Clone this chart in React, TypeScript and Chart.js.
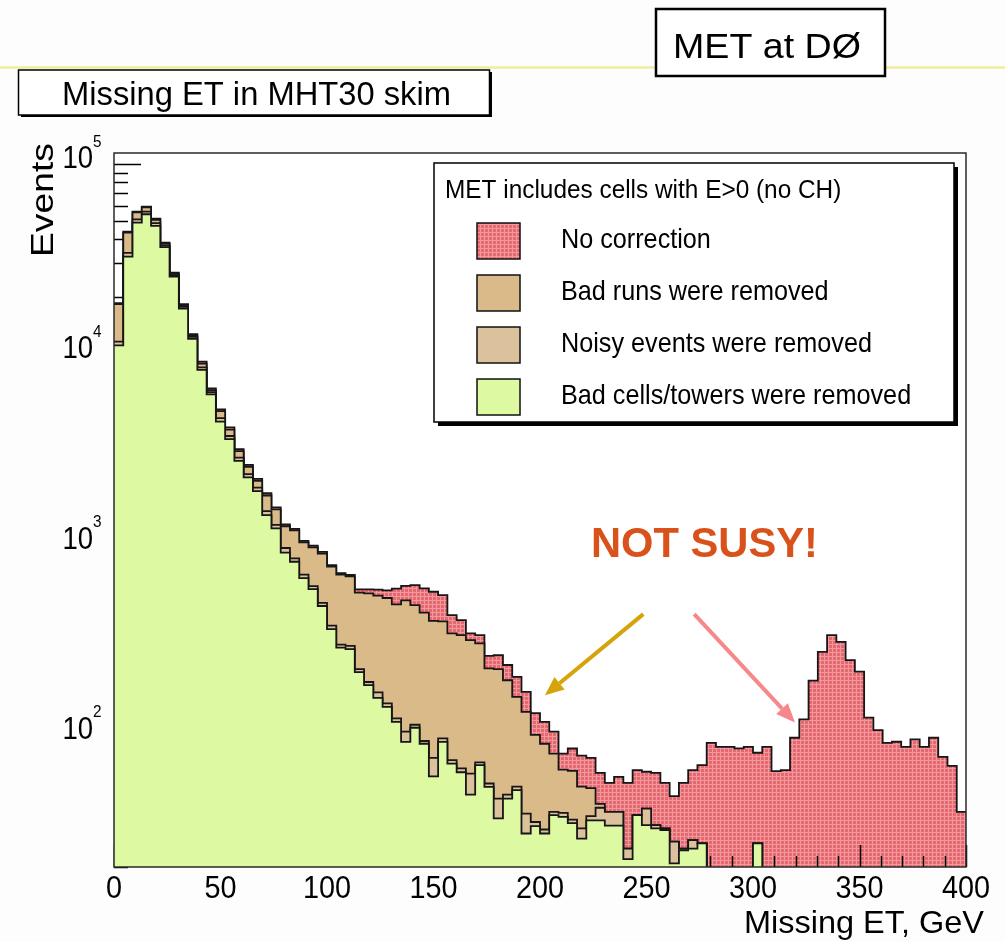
import React, { useEffect, useRef } from "react";
import { Chart, registerables } from "chart.js";

Chart.register(...registerables);

// Axis ranges: missing ET in GeV, events on a log scale
const xRange = [0, 400];
const yRange = [20, 114000];

// Events per bin (92 equal bins spanning 0-400 GeV), one array per cleaning stage
const noCorrection = [
  18500, 44000, 56100, 59600, 51400, 38500, 26800, 18300, 12700, 9100,
  6590, 5110, 4110, 3160, 2610, 2200, 1850, 1560, 1270, 1200,
  1040, 980, 910, 774, 702, 687, 578, 578, 575, 570,
  582, 602, 608, 585, 561, 539, 423, 398, 339, 332,
  258, 260, 231, 200, 167, 129, 116, 103, 79, 84,
  77, 75, 62.5, 55.4, 59.6, 55.4, 64.7, 63.4, 62.6, 55.4,
  47.2, 55.4, 64.7, 68.7, 90, 85.7, 85.7, 84.1, 85.7, 79.8,
  85.7, 63.9, 64.7, 95.7, 119.5, 191, 271, 332, 306, 245,
  213, 122, 105, 90, 91.2, 85.7, 93.8, 85.7, 95.7, 76,
  68, 39,
];

const badRunsRemoved = [
  18300, 43500, 55500, 59000, 50800, 38000, 26400, 18000, 12500, 8900,
  6450, 5000, 4000, 3080, 2550, 2150, 1800, 1520, 1240, 1180,
  1020, 960, 890, 760, 690, 675, 555, 550, 535, 520,
  482, 505, 477, 436, 394, 392, 339, 332, 312, 300,
  222, 220, 192, 157, 131, 99, 89, 79, 65, 64,
  53, 52, 43, 39, 39, 25, 37.5, 40.6, 33.2, 31.9,
  27.2, 25, 27.7, 26.6, 0, 0, 0, 0, 0, 26.6,
  0, 0, 0, 0, 0, 0, 0, 0, 0, 0,
  0, 0, 0, 0, 0, 0, 0, 0, 0, 0,
  0, 0,
];

const noisyEventsRemoved = [
  11600, 34000, 51000, 56000, 48800, 37200, 26000, 17700, 12300, 8500,
  6300, 4600, 3700, 2850, 2330, 1980, 1490, 1260, 953, 840,
  690, 600, 490, 372, 296, 291, 220, 188, 166, 145,
  121, 103, 112, 92, 75, 95, 73, 66, 62, 71,
  55, 45.8, 48, 53, 38.2, 34.5, 31.5, 39, 38.5, 35.5,
  31.9, 37, 41, 39, 39, 25, 37.5, 40.6, 33.2, 31.9,
  27.2, 25, 27.7, 26.6, 0, 0, 0, 0, 0, 26.6,
  0, 0, 0, 0, 0, 0, 0, 0, 0, 0,
  0, 0, 0, 0, 0, 0, 0, 0, 0, 0,
  0, 0,
];

const badCellsRemoved = [
  11100, 32500, 49100, 54300, 47200, 36500, 25500, 17300, 12000, 8240,
  6130, 4400, 3560, 2740, 2240, 1900, 1420, 1210, 900, 807,
  662, 579, 472, 357, 285, 280, 212, 181, 155, 139,
  116, 91, 108, 89, 60, 91, 70, 63, 48, 68.7,
  52.8, 36, 45.8, 50.7, 30, 32.8, 30, 37.5, 36.7, 34,
  28.2, 35.2, 35.2, 33, 33, 22, 37.5, 33.2, 31.9, 31.3,
  20.9, 24.5, 25, 26.6, 0, 0, 0, 0, 0, 26.6,
  0, 0, 0, 0, 0, 0, 0, 0, 0, 0,
  0, 0, 0, 0, 0, 0, 0, 0, 0, 0,
  0, 0,
];

const seriesLabels = [
  "No correction",
  "Bad runs were removed",
  "Noisy events were removed",
  "Bad cells/towers were removed",
];
const legendHeader = "MET includes cells with E>0 (no CH)";
const xTickLabels = [0, 50, 100, 150, 200, 250, 300, 350, 400];
const xMinorStep = 10;
const yDecades = [2, 3, 4, 5];
const xTitle = "Missing ET, GeV";
const yTitle = "Events";
const plotTitle = "Missing ET in MHT30 skim";
const slideTag = "MET at DØ";
const noteText = "NOT SUSY!";

const FONT = '"Liberation Sans", Arial, Helvetica, sans-serif';
const TAN_RUNS = "#dbba89";
const TAN_NOISY = "#dcc19d";
const GREEN = "#ddf9a2";
const OUTLINE = "#161616";

type Pt = { x: number; y: number };

// Turn per-bin counts into step points at the bin low edges (+ closing edge)
function histPoints(values: number[]): Pt[] {
  const width = (xRange[1] - xRange[0]) / values.length;
  const floor = yRange[0] / 10; // empty bins fall below the log axis
  const pts = values.map((v, i) => ({ x: xRange[0] + i * width, y: v > 0 ? v : floor }));
  const last = values[values.length - 1];
  pts.push({ x: xRange[1], y: last > 0 ? last : floor });
  return pts;
}

// Fine cross-hatched red fill, like ROOT's pattern fill style
function makeHatch(ctx: CanvasRenderingContext2D | null): CanvasPattern | string {
  const fallback = "#e8767c";
  if (!ctx) return fallback;
  const tile = document.createElement("canvas");
  tile.width = 4;
  tile.height = 4;
  const t = tile.getContext("2d");
  if (!t) return fallback;
  t.fillStyle = "rgb(228,104,112)";
  t.fillRect(0, 0, 4, 4);
  t.fillStyle = "rgb(243,152,156)";
  t.fillRect(0, 0, 4, 1);
  t.fillRect(0, 0, 1, 4);
  return ctx.createPattern(tile, "repeat") || fallback;
}

function squeezeText(
  ctx: CanvasRenderingContext2D,
  text: string,
  x: number,
  y: number,
  size: number,
  sx: number,
  align: CanvasTextAlign,
  weight = "normal"
) {
  ctx.save();
  ctx.font = `${weight} ${size}px ${FONT}`;
  ctx.textAlign = align;
  ctx.textBaseline = "alphabetic";
  ctx.translate(x, y);
  ctx.scale(sx, 1);
  ctx.fillText(text, 0, 0);
  ctx.restore();
}

function fitText(
  ctx: CanvasRenderingContext2D,
  text: string,
  x: number,
  y: number,
  size: number,
  width: number,
  align: CanvasTextAlign,
  weight = "normal"
) {
  ctx.save();
  ctx.font = `${weight} ${size}px ${FONT}`;
  const natural = ctx.measureText(text).width || 1;
  ctx.restore();
  squeezeText(ctx, text, x, y, size, width / natural, align, weight);
}

function arrow(ctx: CanvasRenderingContext2D, x0: number, y0: number, x1: number, y1: number, color: string) {
  const ang = Math.atan2(y1 - y0, x1 - x0);
  const head = 19;
  const half = 8;
  const bx = x1 - head * Math.cos(ang);
  const by = y1 - head * Math.sin(ang);
  ctx.save();
  ctx.strokeStyle = color;
  ctx.fillStyle = color;
  ctx.lineWidth = 4;
  ctx.lineCap = "butt";
  ctx.beginPath();
  ctx.moveTo(x0, y0);
  ctx.lineTo(bx, by);
  ctx.stroke();
  ctx.beginPath();
  ctx.moveTo(x1, y1);
  ctx.lineTo(bx + half * Math.sin(ang), by - half * Math.cos(ang));
  ctx.lineTo(bx - half * Math.sin(ang), by + half * Math.cos(ang));
  ctx.closePath();
  ctx.fill();
  ctx.restore();
}

const histogramDecor = {
  id: "histogramDecor",
  beforeDraw(chart: any) {
    const { ctx, width } = chart;
    const a = chart.chartArea;
    ctx.save();
    ctx.fillStyle = "#fdfdfd";
    ctx.fillRect(0, 0, chart.width, chart.height);

    // pale rule across the top of the page
    ctx.strokeStyle = "#f1eb9e";
    ctx.lineWidth = 2.5;
    ctx.beginPath();
    ctx.moveTo(0, 67.5);
    ctx.lineTo(width, 67.5);
    ctx.stroke();

    // tag box, upper right
    ctx.fillStyle = "#ffffff";
    ctx.fillRect(656, 9, 229, 67);
    ctx.strokeStyle = "#000";
    ctx.lineWidth = 2.5;
    ctx.strokeRect(656, 9, 229, 67);
    ctx.fillStyle = "#000";
    fitText(ctx, slideTag, 767, 58, 35, 188, "center");

    // histogram title box with drop shadow
    ctx.fillStyle = "#000";
    ctx.fillRect(21, 72, 471, 45);
    ctx.fillStyle = "#ffffff";
    ctx.fillRect(18.5, 70, 471, 45);
    ctx.lineWidth = 1.5;
    ctx.strokeRect(18.5, 70, 471, 45);
    ctx.fillStyle = "#000";
    fitText(ctx, plotTitle, 62, 105, 34, 389, "left");

    // plot area
    ctx.fillStyle = "#ffffff";
    ctx.fillRect(a.left, a.top, a.right - a.left, a.bottom - a.top);
    ctx.restore();
  },
  beforeDatasetsDraw(chart: any) {
    // log-axis ticks, inside the frame
    const { ctx } = chart;
    const a = chart.chartArea;
    const ys = chart.scales.y;
    ctx.save();
    ctx.strokeStyle = "#000";
    ctx.lineWidth = 1.5;
    for (let e = 1; e <= 5; e++) {
      for (let m = 1; m <= 9; m++) {
        const v = m * Math.pow(10, e);
        if (v < yRange[0] || v > yRange[1]) continue;
        const y = Math.round(ys.getPixelForValue(v)) + 0.5;
        const len = m === 1 ? 27 : 14;
        ctx.beginPath();
        ctx.moveTo(a.left, y);
        ctx.lineTo(a.left + len, y);
        ctx.stroke();
      }
    }
    ctx.restore();
  },
  afterDatasetDraw(chart: any, args: any) {
    // x ticks show through the hatched red fill only
    if (args.index !== 0) return;
    const { ctx } = chart;
    const a = chart.chartArea;
    const xs = chart.scales.x;
    ctx.save();
    ctx.strokeStyle = "#000";
    ctx.lineWidth = 1.5;
    for (let v = xRange[0]; v <= xRange[1]; v += xMinorStep) {
      const x = Math.round(xs.getPixelForValue(v)) + 0.5;
      const len = v % 50 === 0 ? 22 : 11;
      ctx.beginPath();
      ctx.moveTo(x, a.bottom);
      ctx.lineTo(x, a.bottom - len);
      ctx.stroke();
    }
    ctx.restore();
  },
  afterDatasetsDraw(chart: any) {
    const { ctx } = chart;
    const a = chart.chartArea;
    const xs = chart.scales.x;
    const ys = chart.scales.y;
    ctx.save();

    // frame
    ctx.strokeStyle = "#2a2a2a";
    ctx.lineWidth = 1.5;
    ctx.strokeRect(a.left, a.top, a.right - a.left, a.bottom - a.top);

    // y labels: 10^n
    ctx.fillStyle = "#000";
    for (const e of yDecades) {
      const y = ys.getPixelForValue(Math.pow(10, e));
      squeezeText(ctx, "10", a.left - 21, y + 4.5, 32, 0.86, "right");
      squeezeText(ctx, String(e), a.left - 21, y - 17, 17, 0.9, "left");
    }

    // x labels
    for (const v of xTickLabels) {
      const x = xs.getPixelForValue(v);
      squeezeText(ctx, String(v), x, a.bottom + 31, 32, 0.9, "center");
    }

    // axis titles
    fitText(ctx, xTitle, 984, a.bottom + 66, 32, 240, "right");
    ctx.save();
    ctx.translate(53, a.top - 10);
    ctx.rotate(-Math.PI / 2);
    fitText(ctx, yTitle, 0, 0, 32, 114, "right");
    ctx.restore();

    // legend box with shadow
    const lx = 434, ly = 163, lw = 520, lh = 259;
    ctx.fillStyle = "#000";
    ctx.fillRect(lx + 4, ly + 4, lw, lh);
    ctx.fillStyle = "#ffffff";
    ctx.fillRect(lx, ly, lw, lh);
    ctx.strokeStyle = "#000";
    ctx.lineWidth = 1.5;
    ctx.strokeRect(lx, ly, lw, lh);
    ctx.fillStyle = "#000";
    squeezeText(ctx, legendHeader, lx + 11, ly + 35, 26.5, 0.92, "left");
    chart.data.datasets.forEach((ds: any, i: number) => {
      const sy = ly + 60 + 52 * i;
      ctx.fillStyle = ds.backgroundColor;
      ctx.fillRect(lx + 43, sy, 43, 36);
      ctx.strokeStyle = "#111";
      ctx.lineWidth = 1.5;
      ctx.strokeRect(lx + 43, sy, 43, 36);
      ctx.fillStyle = "#000";
      squeezeText(ctx, ds.label, lx + 127, sy + 25, 28, 0.9, "left");
    });

    // annotation
    ctx.fillStyle = "#d9521c";
    fitText(ctx, noteText, xs.getPixelForValue(277.2), ys.getPixelForValue(857), 42, 227, "center", "bold");
    arrow(
      ctx,
      xs.getPixelForValue(248.5), ys.getPixelForValue(428),
      xs.getPixelForValue(202.3), ys.getPixelForValue(160),
      "#d6a30a"
    );
    arrow(
      ctx,
      xs.getPixelForValue(272.4), ys.getPixelForValue(428),
      xs.getPixelForValue(319.7), ys.getPixelForValue(115),
      "#f6878a"
    );
    ctx.restore();
  },
};

export default function App() {
  const canvasRef = useRef<HTMLCanvasElement | null>(null);

  useEffect(() => {
    document.body.style.margin = "0";
    const canvas = canvasRef.current;
    if (!canvas) return;
    const hatch = makeHatch(canvas.getContext("2d"));
    const stages = [
      { values: noCorrection, color: hatch, order: 4 },
      { values: badRunsRemoved, color: TAN_RUNS, order: 3 },
      { values: noisyEventsRemoved, color: TAN_NOISY, order: 2 },
      { values: badCellsRemoved, color: GREEN, order: 1 },
    ];
    const chart = new Chart(canvas, {
      type: "line",
      data: {
        datasets: stages.map((s, i) => ({
          label: seriesLabels[i],
          data: histPoints(s.values),
          // horizontal run at each bin's value, then the vertical step at the next edge
          stepped: "before" as const,
          fill: "start",
          backgroundColor: s.color as any,
          borderColor: OUTLINE,
          borderWidth: 1.8,
          pointRadius: 0,
          order: s.order,
        })),
      },
      options: {
        responsive: false,
        animation: false,
        devicePixelRatio: 1,
        events: [],
        layout: { padding: { left: 114, top: 153, right: 39, bottom: 75 } },
        scales: {
          x: { type: "linear", min: xRange[0], max: xRange[1], display: false },
          y: { type: "logarithmic", min: yRange[0], max: yRange[1], display: false },
        },
        plugins: {
          legend: { display: false },
          tooltip: { enabled: false },
        },
      },
      plugins: [histogramDecor],
    });
    return () => chart.destroy();
  }, []);

  return (
    <div style={{ width: 1005, height: 942 }}>
      <canvas ref={canvasRef} width={1005} height={942} style={{ display: "block" }} />
    </div>
  );
}
